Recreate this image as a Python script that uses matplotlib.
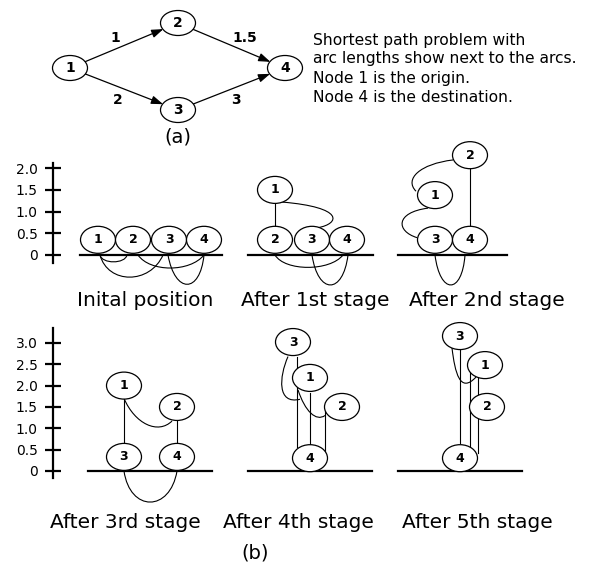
import matplotlib.pyplot as plt
from matplotlib.patches import Ellipse, FancyArrowPatch, PathPatch
from matplotlib.path import Path

plt.rcParams['font.family'] = ['DejaVu Sans']

W, H = 593, 562

# ---- (a) the network ----
NODES_A = ['1', '2', '3', '4']
X_A = [70, 178, 178, 285]
Y_A = [68, 23, 110, 68]
ARCS = [(0, 1), (1, 3), (0, 2), (2, 3)]
ARC_LEN = ['1', '1.5', '2', '3']
ARC_LBL_X = [115, 245, 118, 236]
ARC_LBL_Y = [38, 38, 100, 100]
NOTE = ['Shortest path problem with',
        'arc lengths show next to the arcs.',
        'Node 1 is the origin.',
        'Node 4 is the destination.']
NOTE_Y = [41, 58, 79, 98]

# ---- (b) the stages: node x (px) and height (units) ----
TITLES = ['Inital position', 'After 1st stage', 'After 2nd stage',
          'After 3rd stage', 'After 4th stage', 'After 5th stage']
TITLE_X = [145, 315, 487, 125, 298, 477]
ROW = [0, 0, 0, 1, 1, 1]
GROUND = [(80, 222), (248, 373), (398, 507), (88, 212), (248, 372), (398, 522)]

NODES = [
    {'1': (98, 0.35), '2': (133, 0.35), '3': (169, 0.35), '4': (204, 0.35)},
    {'1': (275, 1.5), '2': (275, 0.35), '3': (312, 0.35), '4': (347, 0.35)},
    {'1': (435, 1.38), '2': (470, 2.3), '3': (435, 0.35), '4': (470, 0.35)},
    {'1': (124, 2.0), '2': (177, 1.5), '3': (124, 0.33), '4': (177, 0.33)},
    {'1': (310, 2.18), '2': (342, 1.5), '3': (293, 3.02), '4': (310, 0.3)},
    {'1': (485, 2.48), '2': (487, 1.5), '3': (460, 3.16), '4': (460, 0.3)},
]

STRINGS = [
    [],
    [((275, 1.19), (275, 0.66))],
    [((470, 1.99), (470, 0.66))],
    [((124, 1.7), (124, 0.64)), ((177, 1.19), (177, 0.64))],
    [((297, 2.67), (297, 0.56)), ((310, 1.83), (310, 0.63)), ((325, 1.45), (325, 0.3))],
    [((460, 2.83), (460, 0.66)), ((470, 2.43), (470, 0.56)), ((478, 2.18), (478, 0.42))],
]

CURVES = [
    [((100, 0), (102, -0.21), (125, -0.21), (127, 0)),
     ((100, 0), (108, -0.68), (150, -0.68), (163, 0)),
     ((138, 0), (150, -0.4), (190, -0.4), (204, 0)),
     ((168, 0), (175, -0.9), (200, -0.9), (204, 0))],
    [((282, 1.22), (345, 1.1), (340, 0.72), (318, 0.63)),
     ((275, 0), (285, -0.38), (330, -0.38), (343, 0)),
     ((312, 0), (318, -0.92), (343, -0.92), (348, 0))],
    [((453, 2.19), (420, 2.1), (404, 1.75), (416, 1.47)),
     ((428, 1.08), (395, 0.98), (396, 0.55), (417, 0.4)),
     ((435, 0), (440, -0.92), (462, -0.92), (465, 0))],
    [((124, 1.7), (135, 1.1), (158, 0.85), (172, 1.17)),
     ((124, 0), (130, -0.97), (170, -0.97), (177, 0))],
    [((288, 2.68), (279, 2.2), (277, 1.55), (300, 1.68)),
     ((298, 1.9), (305, 1.4), (316, 1.15), (325, 1.3))],
    [((452, 2.88), (455, 2.3), (460, 1.8), (476, 2.2))],
]

ROW_TICKS = [[0, 0.5, 1.0, 1.5, 2.0], [0, 0.5, 1.0, 1.5, 2.0, 2.5, 3.0]]
ROW_ZERO_PX = [255, 471]
ROW_PX_PER_UNIT = [43.4, 42.7]
ROW_SPAN_PX = [(120, 292), (318, 512)]
ROW_SPINE = [(-0.18, 2.12), (-0.16, 3.35)]

fig = plt.figure(figsize=(W / 100, H / 100), dpi=100)
ax0 = fig.add_axes([0, 0, 1, 1])
ax0.set_xlim(0, W)
ax0.set_ylim(H, 0)
ax0.axis('off')

# network (a)
ells = []
for lbl, x, y in zip(NODES_A, X_A, Y_A):
    e = Ellipse((x, y), 35, 25, fc='white', ec='black', lw=0.9, zorder=3)
    ax0.add_patch(e)
    ells.append(e)
    ax0.text(x, y, lbl, ha='center', va='center', fontsize=10, fontweight='bold', zorder=4)
for (i, j) in ARCS:
    ax0.add_patch(FancyArrowPatch((X_A[i], Y_A[i]), (X_A[j], Y_A[j]),
                                  patchA=ells[i], patchB=ells[j], shrinkA=0, shrinkB=0,
                                  arrowstyle='-|>,head_length=0.7,head_width=0.25',
                                  mutation_scale=10, lw=0.9, color='black', zorder=2))
for t, x, y in zip(ARC_LEN, ARC_LBL_X, ARC_LBL_Y):
    ax0.text(x, y, t, ha='center', va='center', fontsize=10, fontweight='bold')
for t, y in zip(NOTE, NOTE_Y):
    ax0.text(313, y, t, ha='left', va='center', fontsize=11.2)
ax0.text(178, 137, '(a)', ha='center', va='center', fontsize=14)
ax0.text(255, 553, '(b)', ha='center', va='center', fontsize=14)

for t, x, r in zip(TITLES, TITLE_X, ROW):
    ax0.text(x, [300, 522][r], t, ha='center', va='center', fontsize=14.5)

# rows of (b)
row_axes = []
for r in range(2):
    top_px, bot_px = ROW_SPAN_PX[r]
    z, k = ROW_ZERO_PX[r], ROW_PX_PER_UNIT[r]
    ax = fig.add_axes([0, 1 - bot_px / H, 1, (bot_px - top_px) / H])
    ax.patch.set_alpha(0)
    ax.set_xlim(0, W)
    ax.set_ylim(-(bot_px - z) / k, (z - top_px) / k)
    for s in ['top', 'right', 'bottom']:
        ax.spines[s].set_visible(False)
    ax.spines['left'].set_position(('data', 53))
    ax.spines['left'].set_bounds(*ROW_SPINE[r])
    ax.spines['left'].set_linewidth(1.6)
    ax.set_xticks([])
    ax.set_yticks(ROW_TICKS[r])
    ax.set_yticklabels(['0' if v == 0 else f'{v:.1f}' for v in ROW_TICKS[r]])
    ax.tick_params(axis='y', direction='inout', length=12, width=1.6, labelsize=10, pad=5)
    row_axes.append(ax)

for p in range(6):
    r = ROW[p]
    ax = row_axes[r]
    nh = 27 / ROW_PX_PER_UNIT[r]
    g0, g1 = GROUND[p]
    ax.plot([g0, g1], [0, 0], color='black', lw=1.6, zorder=2, clip_on=False)
    for (a, b) in STRINGS[p]:
        ax.plot([a[0], b[0]], [a[1], b[1]], color='black', lw=0.8, zorder=1, clip_on=False)
    for pts in CURVES[p]:
        path = Path(pts, [Path.MOVETO, Path.CURVE4, Path.CURVE4, Path.CURVE4])
        ax.add_patch(PathPatch(path, fc='none', ec='black', lw=0.8, zorder=1, clip_on=False))
    for lbl, (x, h) in NODES[p].items():
        ax.add_patch(Ellipse((x, h), 35, nh, fc='white', ec='black', lw=0.9, zorder=3, clip_on=False))
        ax.text(x, h, lbl, ha='center', va='center', fontsize=9, fontweight='bold', zorder=4)

fig.savefig('out.png', dpi=100)
